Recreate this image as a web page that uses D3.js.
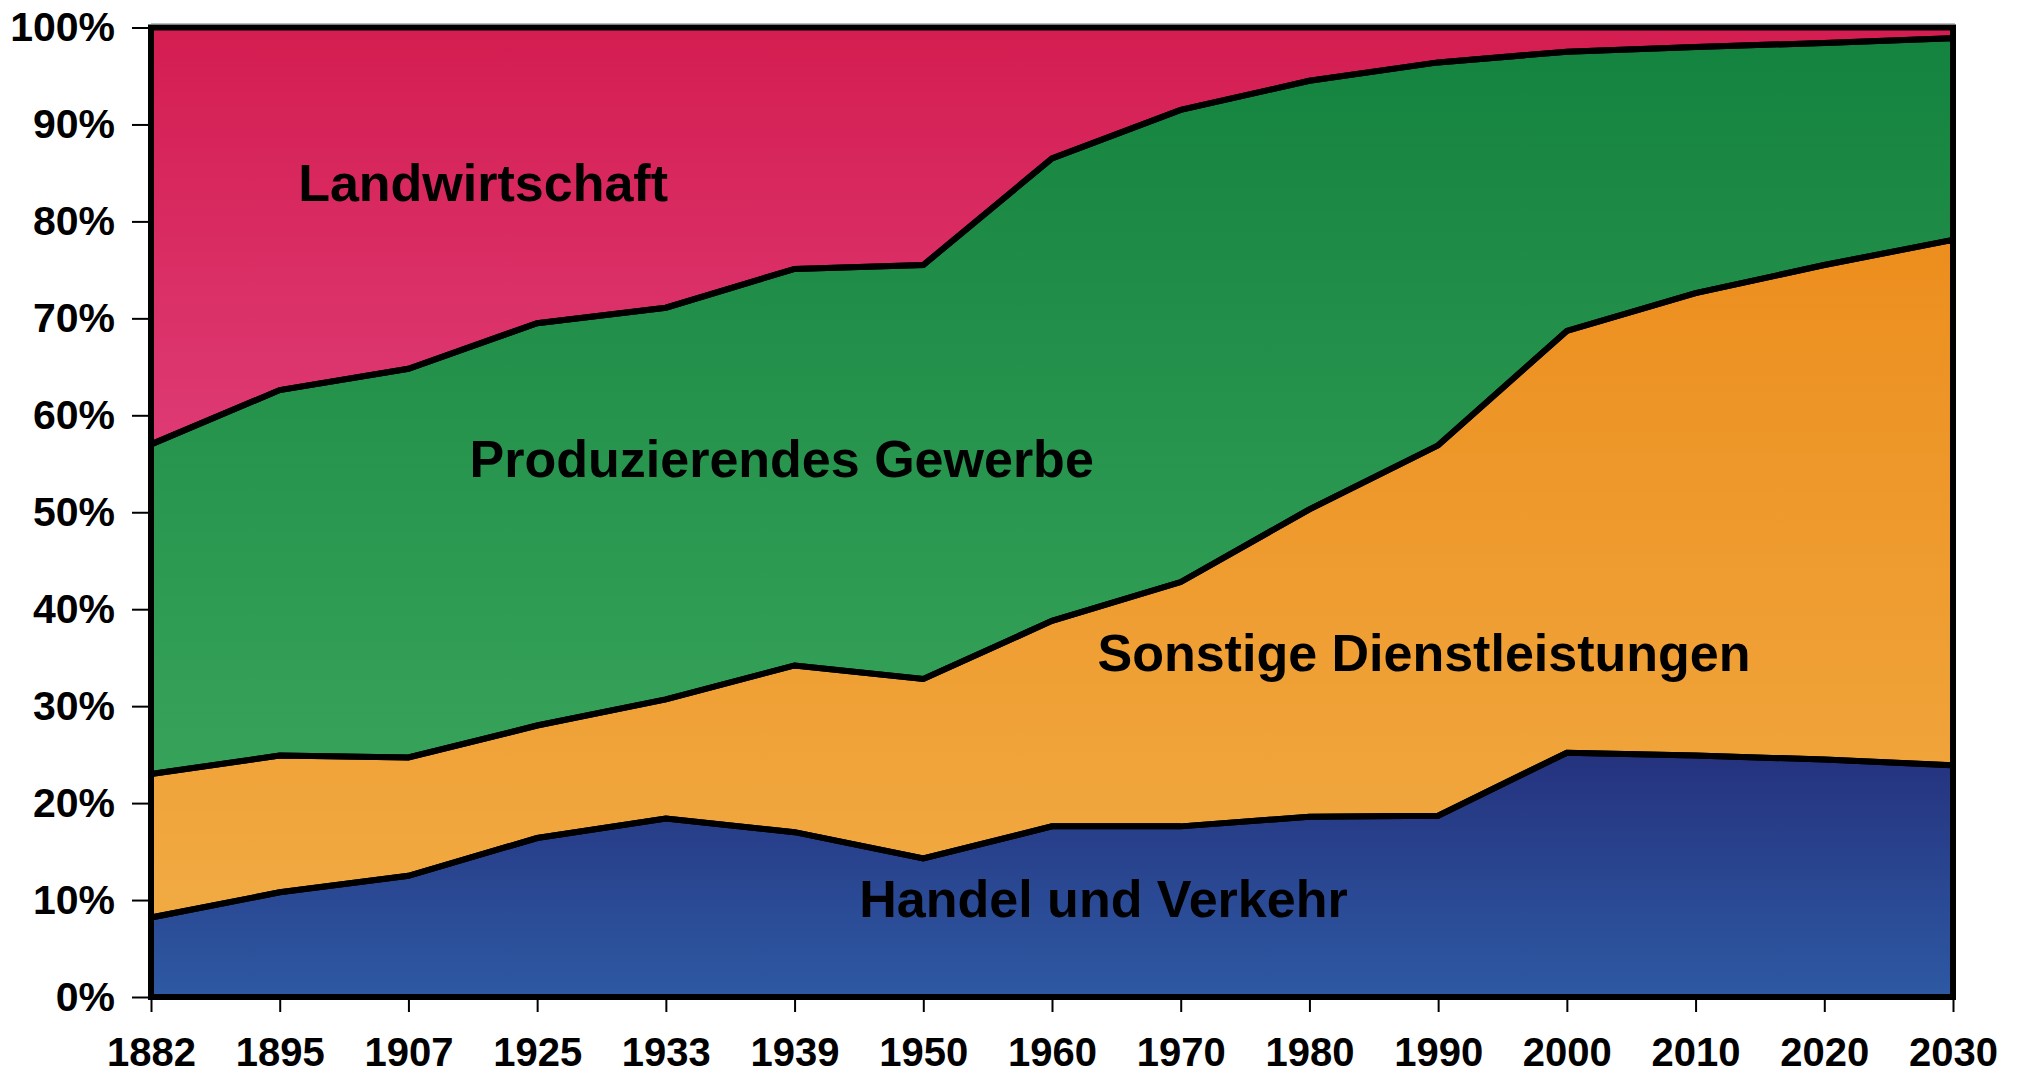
<!DOCTYPE html>
<html>
<head>
<meta charset="utf-8">
<script src="https://cdn.jsdelivr.net/npm/d3@7"></script>
<style>
    body { margin: 0; background: #fff; }
    svg { display: block; font-family: 'Liberation Sans', Arial, sans-serif; font-weight: bold; }
    .axis text { font-size: 41px; font-weight: bold; fill: #000; }
    .axis.x text { font-size: 40px; }
    .axis line { stroke: #000; stroke-width: 2; }
    .axis .domain { display: none; }
    .label { font-size: 52px; font-weight: bold; fill: #000; }
</style>
</head>
<body>
<div id="vis"></div>
<script>
// Erwerbstaetige nach Sektoren, Anteile in %
var years = ['1882', '1895', '1907', '1925', '1933', '1939', '1950', '1960', '1970', '1980', '1990', '2000', '2010', '2020', '2030'];

var handel       = [8.2, 10.8, 12.5, 16.4, 18.4, 17.0, 14.3, 17.6, 17.6, 18.6, 18.7, 25.2, 24.9, 24.5, 23.9];
var sonstige     = [14.8, 14.1, 12.2, 11.6, 12.3, 17.2, 18.5, 21.2, 25.2, 31.7, 38.2, 43.5, 47.7, 51.0, 54.2];
var produzierend = [34.0, 37.7, 40.1, 41.5, 40.4, 40.9, 42.7, 47.7, 48.7, 44.2, 39.5, 28.8, 25.4, 22.9, 20.8];
var landwirt     = [43.0, 37.4, 35.2, 30.5, 28.9, 24.9, 24.5, 13.5, 8.5, 5.5, 3.6, 2.5, 2.0, 1.6, 1.1];

var yTicks = [0, 10, 20, 30, 40, 50, 60, 70, 80, 90, 100];

var keys = ['handel', 'sonstige', 'produzierend', 'landwirt'];
var names = ['Handel und Verkehr', 'Sonstige Dienstleistungen', 'Produzierendes Gewerbe', 'Landwirtschaft'];

// label anchor: position along the year index and percent height
var labelIdx = [7.40, 9.89, 4.90, 2.58];
var labelPct = [8.25, 33.6, 53.6, 82.1];

var gradients = {
    handel:       ['#25327e', '#2e59a3'],
    sonstige:     ['#ec8e1e', '#f1aa42'],
    produzierend: ['#14833f', '#37a35a'],
    landwirt:     ['#d41d51', '#de3a74']
};

var margin = {
    left: 151,
    top: 27.5,
    right: 67,
    bottom: 78
};

var width = 2020;
var height = 1075;
var drawWidth = width - margin.left - margin.right;
var drawHeight = height - margin.top - margin.bottom;

var svg = d3.select('#vis')
    .append('svg')
    .attr('width', width)
    .attr('height', height);

var defs = svg.append('defs');
keys.forEach(function(k) {
    var grad = defs.append('linearGradient')
        .attr('id', 'grad-' + k)
        .attr('x1', 0).attr('y1', 0)
        .attr('x2', 0).attr('y2', 1);
    grad.append('stop').attr('offset', '0%').attr('stop-color', gradients[k][0]);
    grad.append('stop').attr('offset', '100%').attr('stop-color', gradients[k][1]);
});

var g = svg.append('g')
    .attr('transform', 'translate(' + margin.left + ',' + margin.top + ')');

var rows = years.map(function(y, i) {
    return {
        idx: i,
        handel: handel[i],
        sonstige: sonstige[i],
        produzierend: produzierend[i],
        landwirt: landwirt[i]
    };
});

var xScale = d3.scaleLinear()
    .domain([0, years.length - 1])
    .range([0, drawWidth]);

var yScale = d3.scaleLinear()
    .domain([0, 100])
    .range([drawHeight, 0]);

var series = d3.stack().keys(keys)(rows);

var area = d3.area()
    .x(function(d) { return xScale(d.data.idx); })
    .y0(function(d) { return yScale(d[0]); })
    .y1(function(d) { return yScale(d[1]); });

// thin grey frame line above the plot
g.append('line')
    .attr('x1', xScale(0))
    .attr('x2', xScale(years.length - 1) + 2)
    .attr('y1', yScale(100) - 4)
    .attr('y2', yScale(100) - 4)
    .attr('stroke', '#bdbdbd')
    .attr('stroke-width', 1);

g.selectAll('path.fill')
    .data(series)
    .enter().append('path')
    .attr('class', 'fill')
    .attr('d', area)
    .attr('fill', function(d) { return 'url(#grad-' + d.key + ')'; });

g.selectAll('path.outline')
    .data(series)
    .enter().append('path')
    .attr('class', 'outline')
    .attr('d', area)
    .attr('fill', 'none')
    .attr('stroke', '#000')
    .attr('stroke-width', 6)
    .attr('stroke-linejoin', 'miter')
    .attr('stroke-miterlimit', 3);

var yAxis = d3.axisLeft(yScale)
    .tickValues(yTicks)
    .tickSize(16)
    .tickPadding(20)
    .tickFormat(function(d) { return d + '%'; });

var xAxis = d3.axisBottom(xScale)
    .tickValues(d3.range(years.length))
    .tickSize(15)
    .tickPadding(26)
    .tickFormat(function(i) { return years[i]; });

var yAxisG = g.append('g')
    .attr('class', 'axis y')
    .call(yAxis);
yAxisG.selectAll('.tick line').attr('x2', -16).attr('transform', 'translate(-3,0)');

var xAxisG = g.append('g')
    .attr('class', 'axis x')
    .attr('transform', 'translate(0,' + drawHeight + ')')
    .call(xAxis);
xAxisG.selectAll('.tick line').attr('y1', 3).attr('y2', 15);

g.selectAll('text.label')
    .data(keys)
    .enter().append('text')
    .attr('class', 'label')
    .attr('text-anchor', 'middle')
    .attr('x', function(d, i) { return xScale(labelIdx[i]); })
    .attr('y', function(d, i) { return yScale(labelPct[i]); })
    .text(function(d, i) { return names[i]; });
</script>
</body>
</html>
